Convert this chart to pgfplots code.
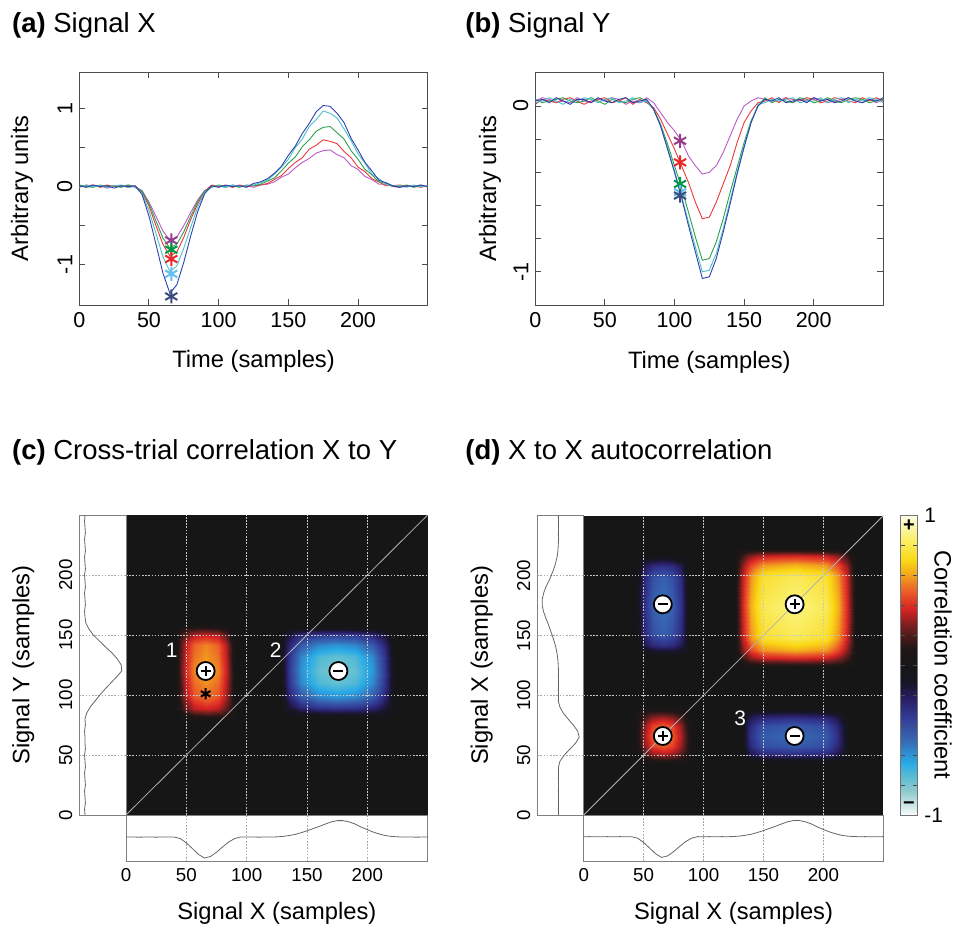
\documentclass[border=0pt]{standalone}
\usepackage{fontspec}
\setmainfont{Liberation Sans}
\usepackage{pgfplots}
\usepackage{pgfplotstable}
\pgfplotsset{compat=1.18}

\definecolor{tb}{RGB}{45,65,175}
\definecolor{tc}{RGB}{75,190,200}
\definecolor{tg}{RGB}{45,160,75}
\definecolor{tr}{RGB}{235,55,55}
\definecolor{tp}{RGB}{185,90,200}
\definecolor{sp}{RGB}{150,60,140}
\definecolor{sg}{RGB}{0,150,70}
\definecolor{sr}{RGB}{230,40,40}
\definecolor{sc}{RGB}{100,190,240}
\definecolor{sn}{RGB}{60,75,125}
\definecolor{hmbg}{RGB}{22,22,22}

\newcommand{\tickfont}{\fontsize{9.4}{11}\selectfont}
\newcommand{\toptickfont}{\fontsize{10.8}{12}\selectfont}
\newcommand{\labfont}{\fontsize{11.9}{14}\selectfont}
\newcommand{\titfont}{\fontsize{13.8}{16}\selectfont}

\pgfplotsset{
 colormap={corr}{
  rgb255(0pt)=(250,252,252)
  rgb255(15pt)=(150,205,205)
  rgb255(25pt)=(95,190,210)
  rgb255(35pt)=(40,170,230)
  rgb255(50pt)=(55,105,180)
  rgb255(65pt)=(50,60,150)
  rgb255(78pt)=(40,30,100)
  rgb255(88pt)=(22,22,40)
  rgb255(100pt)=(22,22,22)
  rgb255(112pt)=(35,22,22)
  rgb255(125pt)=(110,30,30)
  rgb255(138pt)=(215,35,35)
  rgb255(150pt)=(235,95,40)
  rgb255(160pt)=(242,160,30)
  rgb255(170pt)=(250,215,20)
  rgb255(185pt)=(250,240,110)
  rgb255(200pt)=(253,253,230)
 },
 mybase/.style={scale only axis, anchor=south west,
   label style={font=\labfont},
   /pgf/number format/assume math mode=true},
 mytop/.style={mybase, xmin=0, xmax=250, xtick={0,50,100,150,200},
   xticklabel style={font=\toptickfont},
   tick align=inside, major tick length=3bp, xtick pos=both, ytick pos=both,
   xticklabel pos=lower, yticklabel pos=left,
   axis line style={draw=black!70, line width=0.5pt},
   tick style={draw=black!70, line width=0.5pt},
   yticklabel style={rotate=90, anchor=south, font=\toptickfont},
   xlabel={Time (samples)}, ylabel={Arbitrary units}},
 mymarg/.style={mybase, tick label style={font=\tickfont},
   axis line style={draw=black!50, line width=0.4pt},
   major tick length=0pt, grid=major,
   major grid style={draw=black!35, dash pattern=on 0.8pt off 0.8pt, line width=0.4pt}},
 myhm/.style={mybase, xmin=0, xmax=250, ymin=0, ymax=250,
   xtick={50,100,150,200}, ytick={50,100,150,200}, xticklabels={}, yticklabels={},
   major tick length=0pt, axis line style={draw=none},
   axis background/.style={fill=hmbg}, grid=major,
   major grid style={draw=white!78!black, dash pattern=on 0.8pt off 0.8pt, line width=0.4pt},
   axis on top, colormap name=corr, point meta min=-1, point meta max=1},
 trace/.style={line width=0.45pt},
 mtrace/.style={line width=0.4pt, black!60},
 starm/.style={only marks, mark=asterisk, mark size=3.5bp, line width=1pt},
}

\pgfplotstableread{
t b c g r p
0 0.01 -0.01 0.02 0.00 -0.01
5 -0.01 0.02 0.00 0.01 0.02
10 0.02 0.00 -0.01 0.02 0.00
15 0.00 0.01 0.02 -0.01 0.01
20 0.01 -0.01 0.00 0.02 -0.02
25 -0.02 0.01 0.01 0.00 0.01
30 0.01 0.02 -0.01 0.01 0.00
35 0.00 -0.01 0.02 -0.01 0.02
40 0.01 0.00 0.00 0.01 -0.01
45 -0.10 -0.09 -0.06 -0.07 -0.05
50 -0.38 -0.31 -0.22 -0.25 -0.20
55 -0.74 -0.60 -0.44 -0.50 -0.38
60 -1.11 -0.90 -0.66 -0.74 -0.57
65 -1.37 -1.09 -0.79 -0.89 -0.69
70 -1.26 -1.02 -0.74 -0.84 -0.65
75 -0.97 -0.79 -0.58 -0.65 -0.50
80 -0.63 -0.52 -0.38 -0.42 -0.33
85 -0.32 -0.26 -0.19 -0.22 -0.17
90 -0.09 -0.08 -0.06 -0.06 -0.05
95 0.01 0.00 -0.01 0.02 0.00
100 -0.01 0.01 0.02 0.00 0.01
105 0.02 -0.01 0.00 0.01 -0.01
110 0.00 0.02 0.01 -0.01 0.02
115 0.01 0.00 -0.01 0.02 0.00
120 -0.01 0.01 0.02 0.00 0.01
125 0.04 0.02 0.01 0.01 -0.01
130 0.06 0.05 0.03 0.02 0.02
135 0.10 0.08 0.07 0.04 0.03
140 0.17 0.16 0.11 0.09 0.06
145 0.26 0.25 0.20 0.14 0.12
150 0.40 0.35 0.30 0.23 0.16
155 0.52 0.50 0.38 0.31 0.24
160 0.68 0.61 0.51 0.37 0.31
165 0.81 0.77 0.60 0.48 0.36
170 0.96 0.86 0.71 0.53 0.43
175 1.04 0.97 0.76 0.60 0.46
180 1.03 0.94 0.77 0.58 0.47
185 0.94 0.88 0.69 0.55 0.41
190 0.82 0.74 0.61 0.45 0.37
195 0.62 0.59 0.46 0.37 0.27
200 0.47 0.42 0.35 0.25 0.22
205 0.31 0.30 0.22 0.19 0.13
210 0.20 0.16 0.15 0.10 0.09
215 0.08 0.10 0.06 0.06 0.03
220 0.05 0.03 0.04 0.01 0.03
225 0.01 0.01 0.00 0.01 0.00
230 -0.01 0.01 0.00 0.02 -0.01
235 0.01 -0.01 0.02 0.00 0.01
240 0.00 0.02 -0.01 0.01 0.00
245 0.02 0.00 0.01 -0.01 0.02
250 0.00 0.01 0.00 0.01 -0.01
}\tabX

\pgfplotstableread{
t b c g r p
0 0.03 0.02 0.04 0.01 0.03
5 0.04 0.03 0.02 0.04 0.05
10 0.02 0.05 0.03 0.03 0.04
15 0.05 0.03 0.04 0.02 0.02
20 0.03 0.01 0.05 0.04 0.03
25 0.01 0.04 0.03 0.05 0.02
30 0.04 0.03 0.02 0.03 0.05
35 0.04 0.05 0.03 0.01 0.03
40 0.02 0.04 0.05 0.03 0.02
45 0.05 0.02 0.03 0.04 0.04
50 0.03 0.04 0.01 0.05 0.03
55 0.02 0.05 0.04 0.02 0.05
60 0.04 0.02 0.03 0.03 0.04
65 0.05 0.03 0.02 0.05 0.01
70 0.02 0.05 0.04 0.01 0.03
75 0.03 0.02 0.05 0.04 0.02
80 0.04 0.03 0.03 0.02 0.05
85 -0.02 -0.02 -0.02 -0.01 0.02
90 -0.12 -0.12 -0.11 -0.08 -0.04
95 -0.26 -0.25 -0.23 -0.17 -0.10
100 -0.40 -0.39 -0.36 -0.26 -0.15
105 -0.55 -0.54 -0.49 -0.36 -0.21
110 -0.72 -0.70 -0.64 -0.46 -0.30
115 -0.88 -0.85 -0.79 -0.58 -0.36
120 -1.04 -1.00 -0.93 -0.68 -0.41
125 -1.03 -0.99 -0.92 -0.67 -0.40
130 -0.92 -0.89 -0.82 -0.58 -0.36
135 -0.76 -0.74 -0.68 -0.47 -0.28
140 -0.59 -0.57 -0.52 -0.36 -0.18
145 -0.41 -0.40 -0.37 -0.22 -0.08
150 -0.25 -0.24 -0.22 -0.10 0.00
155 -0.10 -0.10 -0.09 -0.03 0.03
160 0.00 0.01 0.00 0.02 0.05
165 0.04 0.02 0.05 0.03 0.04
170 0.03 0.04 0.02 0.05 0.03
175 0.05 0.03 0.04 0.02 0.03
180 0.02 0.04 0.03 0.05 0.05
185 0.03 0.05 0.02 0.04 0.02
190 0.04 0.02 0.05 0.03 0.04
195 0.02 0.03 0.04 0.05 0.03
200 0.05 0.03 0.02 0.04 0.05
205 0.03 0.05 0.03 0.02 0.04
210 0.04 0.02 0.05 0.03 0.02
215 0.02 0.04 0.03 0.05 0.03
220 0.03 0.05 0.02 0.04 0.04
225 0.05 0.02 0.04 0.03 0.05
230 0.03 0.04 0.05 0.02 0.03
235 0.02 0.03 0.04 0.05 0.02
240 0.04 0.05 0.02 0.03 0.04
245 0.03 0.04 0.03 0.05 0.02
250 0.05 0.02 0.04 0.03 0.04
}\tabY

% mean of signal X (m) and negated mean of signal Y (n)
\pgfplotstableread{
t m n
0 0.00 -0.03
5 0.005 -0.04
10 -0.005 -0.02
15 0.00 -0.03
20 0.005 -0.04
25 -0.005 -0.02
30 0.005 -0.03
35 0.00 -0.04
40 0.00 -0.02
45 -0.07 -0.03
50 -0.27 -0.04
55 -0.53 -0.02
60 -0.80 -0.03
65 -0.97 -0.03
70 -0.90 -0.04
75 -0.70 -0.02
80 -0.46 -0.03
85 -0.23 0.01
90 -0.07 0.09
95 0.005 0.20
100 0.00 0.31
105 0.005 0.43
110 -0.005 0.56
115 0.005 0.69
120 0.00 0.81
125 0.01 0.80
130 0.03 0.71
135 0.07 0.59
140 0.12 0.44
145 0.20 0.30
150 0.29 0.16
155 0.39 0.06
160 0.49 -0.01
165 0.60 -0.03
170 0.70 -0.04
175 0.76 -0.02
180 0.76 -0.03
185 0.70 -0.04
190 0.60 -0.02
195 0.46 -0.03
200 0.34 -0.04
205 0.23 -0.02
210 0.14 -0.03
215 0.07 -0.04
220 0.03 -0.02
225 0.01 -0.03
230 0.00 -0.04
235 0.005 -0.02
240 -0.005 -0.03
245 0.00 -0.04
250 0.005 -0.03
}\tabM

\begin{document}
\begin{tikzpicture}
\useasboundingbox (0,-464.5bp) rectangle (477bp,0);

\node[anchor=base west, inner sep=0, font=\titfont] at (5.85bp,-16.15bp) {\textbf{(a)} Signal X};
\node[anchor=base west, inner sep=0, font=\titfont] at (232.5bp,-16.15bp) {\textbf{(b)} Signal Y};
\node[anchor=base west, inner sep=0, font=\titfont] at (5.85bp,-229.65bp) {\textbf{(c)} Cross-trial correlation X to Y};
\node[anchor=base west, inner sep=0, font=\titfont] at (232.5bp,-229.65bp) {\textbf{(d)} X to X autocorrelation};

% ---------------- (a)
\begin{axis}[mytop, at={(39.65bp,-152.5bp)}, width=174.2bp, height=116.5bp,
  ymin=-1.52, ymax=1.47, ytick={-1,-0.5,0,0.5,1}, yticklabels={-1,,0,,1},
  xlabel style={at={(axis description cs:0.5,-0.243)}, anchor=center},
  ylabel style={at={(axis description cs:-0.1645,0.5)}, anchor=center}]
\addplot[trace, tp] table[x=t,y=p]{\tabX};
\addplot[trace, tr] table[x=t,y=r]{\tabX};
\addplot[trace, tg] table[x=t,y=g]{\tabX};
\addplot[trace, tc] table[x=t,y=c]{\tabX};
\addplot[trace, tb] table[x=t,y=b]{\tabX};
\addplot[starm, sp] coordinates {(66,-0.69)};
\addplot[starm, sg] coordinates {(66,-0.81)};
\addplot[starm, sr] coordinates {(66,-0.93)};
\addplot[starm, sc] coordinates {(66,-1.12)};
\addplot[starm, sn] coordinates {(66,-1.41)};
\end{axis}

% ---------------- (b)
\begin{axis}[mytop, at={(267.65bp,-152.5bp)}, width=174bp, height=116.5bp,
  ymin=-1.2, ymax=0.205, ytick={-1,-0.8,-0.6,-0.4,-0.2,0}, yticklabels={-1,,,,,0},
  xlabel style={at={(axis description cs:0.5,-0.248)}, anchor=center},
  ylabel style={at={(axis description cs:-0.13,0.5)}, anchor=center}]
\addplot[trace, tp] table[x=t,y=p]{\tabY};
\addplot[trace, tr] table[x=t,y=r]{\tabY};
\addplot[trace, tg] table[x=t,y=g]{\tabY};
\addplot[trace, tc] table[x=t,y=c]{\tabY};
\addplot[trace, tb] table[x=t,y=b]{\tabY};
\addplot[starm, sp] coordinates {(104,-0.21)};
\addplot[starm, sr] coordinates {(104,-0.34)};
\addplot[starm, sg] coordinates {(104,-0.47)};
\addplot[starm, sc] coordinates {(104,-0.52)};
\addplot[starm, sn] coordinates {(104,-0.54)};
\end{axis}

% ---------------- (c) heatmap
\begin{axis}[myhm, at={(63bp,-407.5bp)}, width=150.85bp, height=150bp]
\addplot[surf, shader=interp, mesh/cols=7, point meta=explicit] coordinates {
(41,79)[0] (49,79)[0] (56,79)[0] (66,79)[0] (76,79)[0] (83,79)[0] (91,79)[0]
(41,88)[0] (49,88)[0.223] (56,88)[0.335] (66,88)[0.372] (76,88)[0.335] (83,88)[0.223] (91,88)[0]
(41,98)[0] (49,98)[0.316] (56,98)[0.474] (66,98)[0.527] (76,98)[0.474] (83,98)[0.316] (91,98)[0]
(41,120)[0] (49,120)[0.372] (56,120)[0.558] (66,120)[0.62] (76,120)[0.558] (83,120)[0.372] (91,120)[0]
(41,142)[0] (49,142)[0.335] (56,142)[0.502] (66,142)[0.558] (76,142)[0.502] (83,142)[0.335] (91,142)[0]
(41,150)[0] (49,150)[0.223] (56,150)[0.335] (66,150)[0.372] (76,150)[0.335] (83,150)[0.223] (91,150)[0]
(41,159)[0] (49,159)[0] (56,159)[0] (66,159)[0] (76,159)[0] (83,159)[0] (91,159)[0]
};
\addplot[surf, shader=interp, mesh/cols=9, point meta=explicit] coordinates {
(128,82)[0] (136,82)[0] (145,82)[0] (160,82)[0] (175,82)[0] (190,82)[0] (205,82)[0] (214,82)[0] (223,82)[0]
(128,90)[0] (136,90)[-0.162] (145,90)[-0.27] (160,90)[-0.342] (175,90)[-0.36] (190,90)[-0.342] (205,90)[-0.27] (214,90)[-0.162] (223,90)[0]
(128,98)[0] (136,98)[-0.27] (145,98)[-0.45] (160,98)[-0.57] (175,98)[-0.6] (190,98)[-0.57] (205,98)[-0.45] (214,98)[-0.27] (223,98)[0]
(128,110)[0] (136,110)[-0.342] (145,110)[-0.57] (160,110)[-0.722] (175,110)[-0.76] (190,110)[-0.722] (205,110)[-0.57] (214,110)[-0.342] (223,110)[0]
(128,120)[0] (136,120)[-0.36] (145,120)[-0.6] (160,120)[-0.76] (175,120)[-0.8] (190,120)[-0.76] (205,120)[-0.6] (214,120)[-0.36] (223,120)[0]
(128,132)[0] (136,132)[-0.342] (145,132)[-0.57] (160,132)[-0.722] (175,132)[-0.76] (190,132)[-0.722] (205,132)[-0.57] (214,132)[-0.342] (223,132)[0]
(128,142)[0] (136,142)[-0.27] (145,142)[-0.45] (160,142)[-0.57] (175,142)[-0.6] (190,142)[-0.57] (205,142)[-0.45] (214,142)[-0.27] (223,142)[0]
(128,150)[0] (136,150)[-0.162] (145,150)[-0.27] (160,150)[-0.342] (175,150)[-0.36] (190,150)[-0.342] (205,150)[-0.27] (214,150)[-0.162] (223,150)[0]
(128,157)[0] (136,157)[0] (145,157)[0] (160,157)[0] (175,157)[0] (190,157)[0] (205,157)[0] (214,157)[0] (223,157)[0]
};
\addplot[draw=white!70!black, line width=0.4pt] coordinates {(0,0) (250,250)};
\addplot[only marks, mark=*, mark size=4.5bp, mark options={fill=white, draw=black, line width=0.9pt}] coordinates {(66,120) (176,120)};
\addplot[only marks, mark=+, mark size=2.5bp, mark options={draw=black, line width=1.1pt}] coordinates {(66,120)};
\addplot[only marks, mark=-, mark size=2.5bp, mark options={draw=black, line width=1.1pt}] coordinates {(176,120)};
\addplot[only marks, mark=asterisk, mark size=2.8bp, mark options={draw=black, line width=1pt}] coordinates {(66,101)};
\node[text=white, font=\fontsize{10.5}{12}\selectfont] at (axis cs:37.8,137.5) {1};
\node[text=white, font=\fontsize{10.5}{12}\selectfont] at (axis cs:124,137.5) {2};
\end{axis}

% (c) left marginal
\begin{axis}[mymarg, at={(39.65bp,-407.5bp)}, width=23.35bp, height=150bp,
  xmin=-0.16, xmax=0.908, ymin=0, ymax=250, xtick=\empty, ytick={0,50,100,150,200},
  xmajorgrids=false, yticklabel style={rotate=90, anchor=south},
  ylabel={Signal Y (samples)}, ylabel style={at={(axis description cs:-1.2,0.5)}, anchor=center}]
\addplot[mtrace] table[x=n,y=t]{\tabM};
\end{axis}

% (c) bottom marginal
\begin{axis}[mymarg, at={(63bp,-430.85bp)}, width=150.85bp, height=23.35bp,
  xmin=0, xmax=250, ymin=-1.14, ymax=1.02, ytick=\empty, xtick={0,50,100,150,200},
  ymajorgrids=false,
  xlabel={Signal X (samples)}, xlabel style={at={(axis description cs:0.5,-1.105)}, anchor=center}]
\addplot[mtrace] table[x=t,y=m]{\tabM};
\end{axis}

% ---------------- (d) heatmap
\begin{axis}[myhm, at={(291.85bp,-407.5bp)}, width=149.8bp, height=149.65bp]
\addplot[surf, shader=interp, mesh/cols=7, point meta=explicit] coordinates {
(43,43)[0] (51,43)[0] (58,43)[0] (66,43)[0] (74,43)[0] (81,43)[0] (90,43)[0]
(43,51)[0] (51,51)[0.198] (58,51)[0.297] (66,51)[0.33] (74,51)[0.297] (81,51)[0.198] (90,51)[0]
(43,58)[0] (51,58)[0.297] (58,58)[0.446] (66,58)[0.495] (74,58)[0.446] (81,58)[0.297] (90,58)[0]
(43,66)[0] (51,66)[0.33] (58,66)[0.495] (66,66)[0.55] (74,66)[0.495] (81,66)[0.33] (90,66)[0]
(43,74)[0] (51,74)[0.297] (58,74)[0.446] (66,74)[0.495] (74,74)[0.446] (81,74)[0.297] (90,74)[0]
(43,81)[0] (51,81)[0.198] (58,81)[0.297] (66,81)[0.33] (74,81)[0.297] (81,81)[0.198] (90,81)[0]
(43,90)[0] (51,90)[0] (58,90)[0] (66,90)[0] (74,90)[0] (81,90)[0] (90,90)[0]
};
\addplot[surf, shader=interp, mesh/cols=7, point meta=explicit] coordinates {
(44,134)[0] (51,134)[0] (58,134)[0] (66,134)[0] (74,134)[0] (81,134)[0] (88,134)[0]
(44,142)[0] (51,142)[-0.187] (58,142)[-0.281] (66,142)[-0.312] (74,142)[-0.281] (81,142)[-0.187] (88,142)[0]
(44,152)[0] (51,152)[-0.281] (58,152)[-0.421] (66,152)[-0.468] (74,152)[-0.421] (81,152)[-0.281] (88,152)[0]
(44,175)[0] (51,175)[-0.312] (58,175)[-0.468] (66,175)[-0.52] (74,175)[-0.468] (81,175)[-0.312] (88,175)[0]
(44,198)[0] (51,198)[-0.281] (58,198)[-0.421] (66,198)[-0.468] (74,198)[-0.421] (81,198)[-0.281] (88,198)[0]
(44,208)[0] (51,208)[-0.187] (58,208)[-0.281] (66,208)[-0.312] (74,208)[-0.281] (81,208)[-0.187] (88,208)[0]
(44,217)[0] (51,217)[0] (58,217)[0] (66,217)[0] (74,217)[0] (81,217)[0] (88,217)[0]
};
\addplot[surf, shader=interp, mesh/cols=7, point meta=explicit] coordinates {
(131,44)[0] (139,44)[0] (148,44)[0] (175,44)[0] (202,44)[0] (211,44)[0] (222,44)[0]
(131,51)[0] (139,51)[-0.18] (148,51)[-0.27] (175,51)[-0.3] (202,51)[-0.27] (211,51)[-0.18] (222,51)[0]
(131,58)[0] (139,58)[-0.27] (148,58)[-0.405] (175,58)[-0.45] (202,58)[-0.405] (211,58)[-0.27] (222,58)[0]
(131,66)[0] (139,66)[-0.3] (148,66)[-0.45] (175,66)[-0.5] (202,66)[-0.45] (211,66)[-0.3] (222,66)[0]
(131,74)[0] (139,74)[-0.27] (148,74)[-0.405] (175,74)[-0.45] (202,74)[-0.405] (211,74)[-0.27] (222,74)[0]
(131,81)[0] (139,81)[-0.18] (148,81)[-0.27] (175,81)[-0.3] (202,81)[-0.27] (211,81)[-0.18] (222,81)[0]
(131,89)[0] (139,89)[0] (148,89)[0] (175,89)[0] (202,89)[0] (211,89)[0] (222,89)[0]
};
\addplot[surf, shader=interp, mesh/cols=9, point meta=explicit] coordinates {
(125,123)[0] (133,123)[0] (140,123)[0] (150,123)[0] (176,123)[0] (202,123)[0] (212,123)[0] (220,123)[0] (228,123)[0]
(125,131)[0] (133,131)[0.178] (140,131)[0.285] (150,131)[0.364] (176,131)[0.396] (202,131)[0.364] (212,131)[0.285] (220,131)[0.178] (228,131)[0]
(125,138)[0] (133,138)[0.285] (140,138)[0.456] (150,138)[0.583] (176,138)[0.634] (202,138)[0.583] (212,138)[0.456] (220,138)[0.285] (228,138)[0]
(125,148)[0] (133,148)[0.364] (140,148)[0.583] (150,148)[0.745] (176,148)[0.81] (202,148)[0.745] (212,148)[0.583] (220,148)[0.364] (228,148)[0]
(125,174)[0] (133,174)[0.396] (140,174)[0.634] (150,174)[0.81] (176,174)[0.88] (202,174)[0.81] (212,174)[0.634] (220,174)[0.396] (228,174)[0]
(125,200)[0] (133,200)[0.364] (140,200)[0.583] (150,200)[0.745] (176,200)[0.81] (202,200)[0.745] (212,200)[0.583] (220,200)[0.364] (228,200)[0]
(125,209)[0] (133,209)[0.285] (140,209)[0.456] (150,209)[0.583] (176,209)[0.634] (202,209)[0.583] (212,209)[0.456] (220,209)[0.285] (228,209)[0]
(125,216)[0] (133,216)[0.178] (140,216)[0.285] (150,216)[0.364] (176,216)[0.396] (202,216)[0.364] (212,216)[0.285] (220,216)[0.178] (228,216)[0]
(125,223)[0] (133,223)[0] (140,223)[0] (150,223)[0] (176,223)[0] (202,223)[0] (212,223)[0] (220,223)[0] (228,223)[0]
};
\addplot[draw=white!70!black, line width=0.4pt] coordinates {(0,0) (250,250)};
\addplot[only marks, mark=*, mark size=4.5bp, mark options={fill=white, draw=black, line width=0.9pt}] coordinates {(66,176) (176,176) (66,66) (176,66)};
\addplot[only marks, mark=+, mark size=2.5bp, mark options={draw=black, line width=1.1pt}] coordinates {(176,176) (66,66)};
\addplot[only marks, mark=-, mark size=2.5bp, mark options={draw=black, line width=1.1pt}] coordinates {(66,176) (176,66)};
\node[text=white, font=\fontsize{10.5}{12}\selectfont] at (axis cs:130.5,80.7) {3};
\end{axis}

% (d) left marginal
\begin{axis}[mymarg, at={(268.65bp,-407.5bp)}, width=23.2bp, height=149.65bp,
  xmin=-0.99, xmax=1.18, ymin=0, ymax=250, xtick=\empty, ytick={0,50,100,150,200},
  xmajorgrids=false, yticklabel style={rotate=90, anchor=south},
  ylabel={Signal X (samples)}, ylabel style={at={(axis description cs:-1.2,0.5)}, anchor=center}]
\addplot[mtrace] table[x expr=-\thisrow{m},y=t]{\tabM};
\end{axis}

% (d) bottom marginal
\begin{axis}[mymarg, at={(291.85bp,-430.5bp)}, width=149.8bp, height=23bp,
  xmin=0, xmax=250, ymin=-1.14, ymax=1.02, ytick=\empty, xtick={0,50,100,150,200},
  ymajorgrids=false,
  xlabel={Signal X (samples)}, xlabel style={at={(axis description cs:0.5,-1.137)}, anchor=center}]
\addplot[mtrace] table[x=t,y=m]{\tabM};
\end{axis}

% colour bar
\begin{axis}[mybase, at={(450.35bp,-407.5bp)}, width=8.3bp, height=149.65bp,
  xmin=0, xmax=1, ymin=-1, ymax=1, xtick=\empty, ytick={-1,1}, yticklabels={-1,1},
  yticklabel pos=right, ytick pos=both, minor ytick={-0.8,-0.6,-0.4,-0.2,0,0.2,0.4,0.6,0.8},
  tick align=inside, major tick length=0pt, minor tick length=2.2bp,
  tick style={draw=black!70, line width=0.4pt},
  axis line style={draw=black!55, line width=0.4pt}, axis on top,
  tick label style={font=\fontsize{10.5}{12}\selectfont},
  colormap name=corr, point meta min=-1, point meta max=1]
\addplot[surf, shader=interp, mesh/cols=2, point meta=y] coordinates {
(0,-1)(1,-1) (0,-0.95)(1,-0.95) (0,-0.9)(1,-0.9) (0,-0.85)(1,-0.85) (0,-0.8)(1,-0.8)
(0,-0.75)(1,-0.75) (0,-0.7)(1,-0.7) (0,-0.65)(1,-0.65) (0,-0.6)(1,-0.6) (0,-0.55)(1,-0.55)
(0,-0.5)(1,-0.5) (0,-0.45)(1,-0.45) (0,-0.4)(1,-0.4) (0,-0.35)(1,-0.35) (0,-0.3)(1,-0.3)
(0,-0.25)(1,-0.25) (0,-0.2)(1,-0.2) (0,-0.15)(1,-0.15) (0,-0.1)(1,-0.1) (0,-0.05)(1,-0.05)
(0,0)(1,0) (0,0.05)(1,0.05) (0,0.1)(1,0.1) (0,0.15)(1,0.15) (0,0.2)(1,0.2)
(0,0.25)(1,0.25) (0,0.3)(1,0.3) (0,0.35)(1,0.35) (0,0.4)(1,0.4) (0,0.45)(1,0.45)
(0,0.5)(1,0.5) (0,0.55)(1,0.55) (0,0.6)(1,0.6) (0,0.65)(1,0.65) (0,0.7)(1,0.7)
(0,0.75)(1,0.75) (0,0.8)(1,0.8) (0,0.85)(1,0.85) (0,0.9)(1,0.9) (0,0.95)(1,0.95)
(0,1)(1,1)
};
\node[font=\bfseries\fontsize{10}{12}\selectfont] at (axis cs:0.5,0.935) {+};
\node[font=\bfseries\fontsize{10}{12}\selectfont] at (axis cs:0.5,-0.935) {−};
\end{axis}
\node[rotate=-90, anchor=base, inner sep=0, font=\labfont] at (467.3bp,-332.5bp) {Correlation coefficient};

\end{tikzpicture}
\end{document}
